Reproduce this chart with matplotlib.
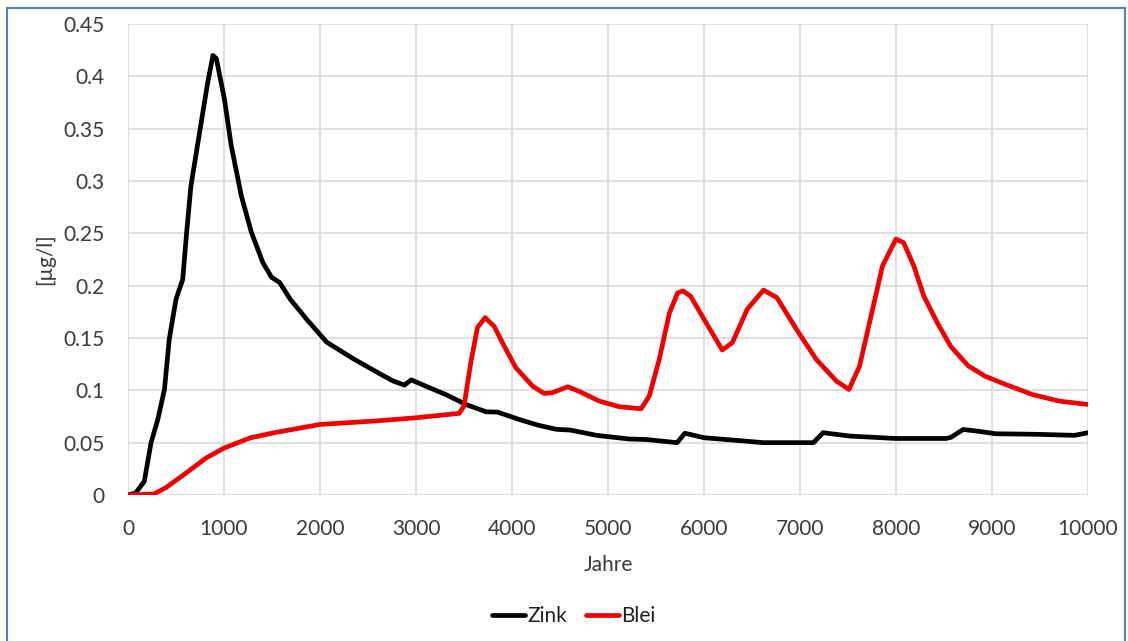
import numpy as np
import matplotlib.pyplot as plt
from matplotlib.lines import Line2D

plt.rcParams['font.family'] = ['Lato', 'DejaVu Sans']

#%%---------------------------------------- datos
zink_x = [0, 80, 170, 240, 310, 380, 430, 500, 570, 610, 655, 745, 830, 885, 920,
          1005, 1075, 1180, 1285, 1405, 1495, 1580, 1690, 1860, 2070, 2350, 2620,
          2760, 2880, 2950, 3140, 3310, 3520, 3730, 3850, 4080, 4280, 4460, 4610,
          4880, 5220, 5400, 5720, 5800, 5850, 6000, 6310, 6620, 7140, 7240, 7520,
          8000, 8520, 8570, 8700, 8850, 9040, 9460, 9860, 10000]
zink_y = [0, 0.002, 0.013, 0.05, 0.072, 0.101, 0.149, 0.187, 0.206, 0.25, 0.295,
          0.346, 0.394, 0.42, 0.417, 0.378, 0.334, 0.286, 0.251, 0.222, 0.208,
          0.203, 0.187, 0.168, 0.146, 0.13, 0.116, 0.109, 0.105, 0.11, 0.1025,
          0.096, 0.0865, 0.0795, 0.0792, 0.072, 0.0665, 0.0628, 0.062, 0.057,
          0.0535, 0.053, 0.050, 0.059, 0.058, 0.0547, 0.0524, 0.050, 0.050,
          0.0595, 0.0563, 0.054, 0.054, 0.055, 0.0626, 0.061, 0.0585, 0.058,
          0.057, 0.0595]

blei_x = [0, 270, 395, 605, 815, 1005, 1270, 1510, 2000, 2620, 3000, 3450, 3500,
          3570, 3640, 3720, 3815, 3920, 4040, 4215, 4335, 4420, 4580, 4700, 4910,
          5120, 5345, 5430, 5535, 5640, 5725, 5780, 5860, 6000, 6190, 6295, 6450,
          6620, 6760, 6965, 7170, 7380, 7510, 7620, 7740, 7860, 8000, 8080, 8185,
          8290, 8430, 8570, 8750, 8925, 9140, 9420, 9700, 10000]
blei_y = [0, 0.001, 0.007, 0.021, 0.0355, 0.045, 0.0545, 0.0593, 0.0674, 0.071,
          0.0738, 0.078, 0.085, 0.126, 0.160, 0.1695, 0.161, 0.142, 0.1216, 0.104,
          0.097, 0.0977, 0.1034, 0.099, 0.0897, 0.0843, 0.0824, 0.0945, 0.13,
          0.174, 0.193, 0.195, 0.190, 0.168, 0.1385, 0.1455, 0.1774, 0.1958,
          0.1885, 0.158, 0.1295, 0.1088, 0.1008, 0.123, 0.171, 0.219, 0.2445,
          0.241, 0.219, 0.19, 0.1646, 0.142, 0.1236, 0.1136, 0.1057, 0.096,
          0.0897, 0.0865]

x_ticks = np.arange(0, 10001, 1000)
y_ticks = [0, 0.05, 0.1, 0.15, 0.2, 0.25, 0.3, 0.35, 0.4, 0.45]
y_labels = ['0', '0.05', '0.1', '0.15', '0.2', '0.25', '0.3', '0.35', '0.4', '0.45']

#%%---------------------------------------- figura
fig = plt.figure(figsize=(11.28, 6.41), dpi=100)
ax = fig.add_axes([128/1128, 1 - 495/641, 960/1128, 471/641])

ax.plot(zink_x, zink_y, color='black', lw=3.4, label='Zink',
        solid_joinstyle='round', solid_capstyle='round')
ax.plot(blei_x, blei_y, color='#f00000', lw=3.4, label='Blei',
        solid_joinstyle='round', solid_capstyle='round')

ax.set_xlim(0, 10000)
ax.set_ylim(0, 0.45)
ax.set_xticks(x_ticks)
ax.set_yticks(y_ticks)
ax.set_yticklabels(y_labels)
ax.grid(True, color='#d9d9d9', lw=1.2)
ax.set_axisbelow(True)
for s in ax.spines.values():
    s.set_visible(False)
ax.tick_params(length=0, labelsize=15, colors='#3a3a3a')
ax.tick_params(axis='x', pad=17)
ax.tick_params(axis='y', pad=17)

ax.set_xlabel('Jahre', fontsize=15, color='#3a3a3a', labelpad=12)
ax.set_ylabel('[µg/l]', fontsize=15, color='#3a3a3a', labelpad=6)

ax.legend(loc='upper center', bbox_to_anchor=(0.464, -0.196), ncol=2, frameon=False,
          fontsize=15, handlelength=1.6, handletextpad=0.1, columnspacing=0.9,
          labelcolor='#202020')

# marco azul
bc = '#4f81c7'
fig.add_artist(Line2D([7/1128, 7/1128], [0, 1 - 8/641], color=bc, lw=1.5))
fig.add_artist(Line2D([7/1128, 1125/1128], [1 - 8/641, 1 - 8/641], color=bc, lw=1.5))
fig.add_artist(Line2D([1125/1128, 1125/1128], [0, 1 - 8/641], color=bc, lw=1.5))

fig.savefig('out.png', dpi=100)
